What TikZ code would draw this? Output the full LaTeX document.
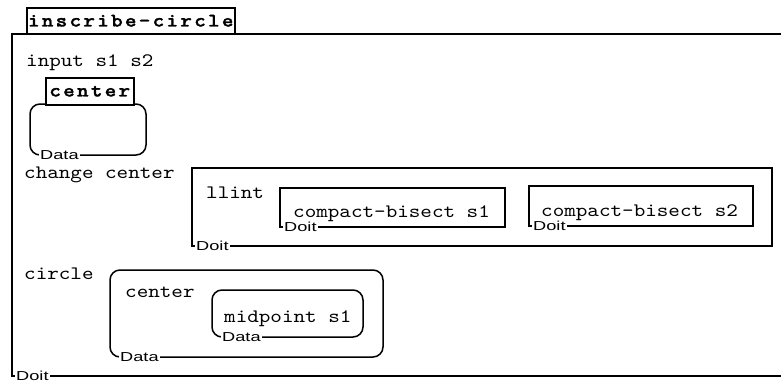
\documentclass[tikz,border=0pt]{standalone}
\usepackage{fontspec}
\setmonofont{lmmono10-regular.otf}[FakeStretch=1.16]
\newfontfamily\tagfont[FakeStretch=1.4]{Liberation Sans}
\newfontfamily\namefont{lmmonolt10-bold.otf}[FakeStretch=1.16,FakeBold=1.5,LetterSpace=12]
\tikzset{
  frame/.style={line width=1.5pt},
  tag/.style={font=\tagfont\fontsize{13}{13}\selectfont,fill=white,inner sep=1pt,anchor=west},
  code/.style={font=\ttfamily\fontsize{19}{19}\selectfont,anchor=base west,inner sep=0pt},
  namebox/.style={draw,line width=1.5pt,fill=white,font=\namefont\fontsize{19}{19}\selectfont,inner sep=0pt,anchor=north west}
}
\begin{document}
\begin{tikzpicture}[x=1pt,y=-1pt]
        \useasboundingbox (0,0) rectangle (781,383);
        % square frames (Doit)
        \foreach \xa/\ya/\xb/\yb/\n in {12/34/790/376/outer,192/168/772/246/llint,280/188/505/227/bisa,529/186/753/226/bisb}{
          \draw[frame] (\xa,\ya) rectangle (\xb,\yb);
          \node[tag] (doit-\n) at (\xa+3,\yb) {Doit};
        }
        % rounded frames (Data)
        \foreach \xa/\ya/\xb/\yb/\n in {30/104/146/155/input,110/270/383/357/circ,212/290/363/337/mid}{
          \draw[frame,rounded corners=10pt] (\xa,\ya) rectangle (\xb,\yb);
          \node[tag] (data-\n) at (\xa+9,\yb) {Data};
        }
        \node[namebox,minimum width=208pt,minimum height=26pt] (title) at (26,7) {inscribe-circle};
        \node[namebox,minimum width=88pt,minimum height=27pt] (centername) at (45,77) {center};
        \node[code] (input) at (26,66) {input s1 s2};
        \node[code] (change) at (24,178) {change center};
        \node[code] (llint) at (206,198) {llint};
        \node[code] (bisa) at (293,217) {compact-bisect s1};
        \node[code] (bisb) at (541,216) {compact-bisect s2};
        \node[code] (circ) at (24,279) {circle};
        \node[code] (center) at (125,297) {center};
        \node[code] (mid) at (224,322) {midpoint s1};
    \end{tikzpicture}
\end{document}
